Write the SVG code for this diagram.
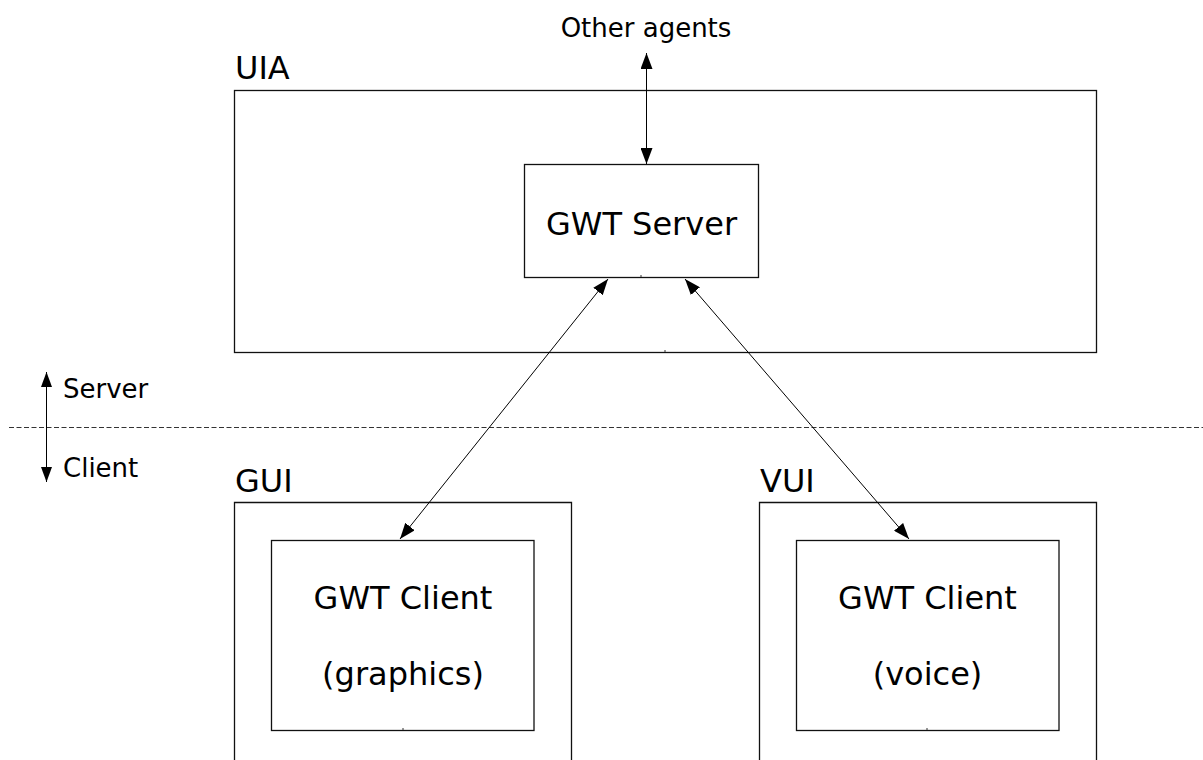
<svg xmlns="http://www.w3.org/2000/svg" width="1203" height="760" viewBox="0 0 1203 760">
  <style>
    .box { fill: none; stroke: #111; stroke-width: 1.3; }
    .lbl { font-family: "DejaVu Sans", Verdana, sans-serif; fill: #000; }
    .big { font-size: 32px; }
    .small { font-size: 26px; }
    .mid { text-anchor: middle; }
    .link { fill: none; stroke: #000; stroke-width: 1; }
    .tick { stroke: #333; stroke-width: 1; }
  </style>
  <defs>
    <marker id="head" markerUnits="userSpaceOnUse" viewBox="0 0 16 12" markerWidth="16" markerHeight="12" refX="16" refY="6" orient="auto-start-reverse">
      <path d="M0,0 L16,6 L0,12 z" fill="#000"/>
    </marker>
    <marker id="headSmall" markerUnits="userSpaceOnUse" viewBox="0 0 15 11" markerWidth="15" markerHeight="11" refX="15" refY="5.5" orient="auto-start-reverse">
      <path d="M0,0 L15,5.5 L0,11 z" fill="#000"/>
    </marker>
  </defs>

  <rect width="1203" height="760" fill="#fff"/>

  <!-- server / client boundary -->
  <g id="boundary">
    <line x1="9" y1="427.5" x2="1203" y2="427.5" stroke="#333" stroke-width="1" stroke-dasharray="5 2.5"/>
    <text class="lbl small" x="63" y="398">Server</text>
    <text class="lbl small" x="63" y="477">Client</text>
  </g>

  <text id="other-agents" class="lbl small mid" x="646" y="37">Other agents</text>

  <!-- user interface agent -->
  <g id="uia">
    <rect class="box" x="234.5" y="90.5" width="862" height="262"/>
    <line class="tick" x1="665" y1="350" x2="665" y2="352"/>
    <text class="lbl big" x="235" y="79">UIA</text>
  </g>

  <g id="gwt-server">
    <rect class="box" x="524.5" y="164.5" width="234" height="113"/>
    <line class="tick" x1="641" y1="275" x2="641" y2="277"/>
    <text class="lbl big mid" x="641.5" y="235">GWT Server</text>
  </g>

  <!-- graphical user interface -->
  <g id="gui">
    <path class="box" d="M234.5,770 V502.5 H571.5 V770"/>
    <text class="lbl big" x="235" y="492">GUI</text>
  </g>

  <g id="gwt-client-graphics">
    <rect class="box" x="271.5" y="540.5" width="262.5" height="190"/>
    <line class="tick" x1="403" y1="728" x2="403" y2="730"/>
    <text class="lbl big mid" x="403" y="609">GWT Client</text>
    <text class="lbl big mid" x="403" y="685">(graphics)</text>
  </g>

  <!-- voice user interface -->
  <g id="vui">
    <path class="box" d="M759.5,770 V502.5 H1096.5 V770"/>
    <text class="lbl big" x="760" y="492">VUI</text>
  </g>

  <g id="gwt-client-voice">
    <rect class="box" x="796.5" y="540.5" width="262.5" height="190"/>
    <line class="tick" x1="927" y1="728" x2="927" y2="730"/>
    <text class="lbl big mid" x="927.5" y="609">GWT Client</text>
    <text class="lbl big mid" x="927.5" y="685">(voice)</text>
  </g>

  <!-- connectors -->
  <g id="connectors">
    <line class="link" x1="646.5" y1="53" x2="646.5" y2="164" marker-start="url(#head)" marker-end="url(#head)"/>
    <line class="link" x1="608" y1="279" x2="400" y2="539" marker-start="url(#head)" marker-end="url(#head)"/>
    <line class="link" x1="685" y1="279" x2="909" y2="539" marker-start="url(#head)" marker-end="url(#head)"/>
    <line class="link" stroke-width="1.5" x1="46.5" y1="372" x2="46.5" y2="482" marker-start="url(#headSmall)" marker-end="url(#headSmall)"/>
  </g>
</svg>
